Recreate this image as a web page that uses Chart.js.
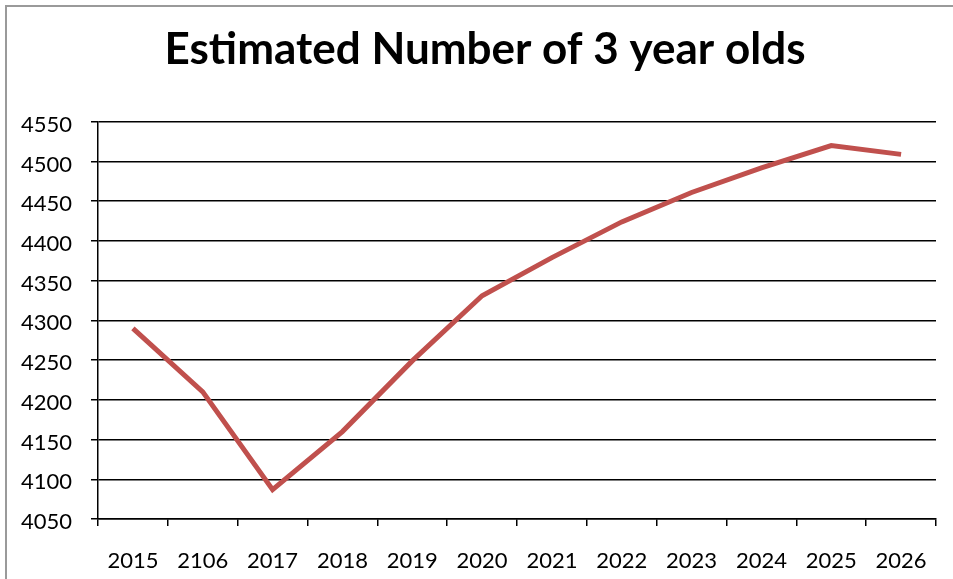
<!DOCTYPE html>
<html>
<head>
<meta charset="utf-8">
<script src="https://cdn.jsdelivr.net/npm/chart.js@4"></script>
<style>
  html, body { margin: 0; padding: 0; background: #fff; }
  #wrap { width: 953px; height: 579px; position: relative; }
</style>
</head>
<body>
<div id="wrap"><canvas id="chart" width="953" height="579"></canvas></div>
<script>
// data (the "2106" label is as printed in the original)
const years = ["2015", "2106", "2017", "2018", "2019", "2020", "2021", "2022", "2023", "2024", "2025", "2026"];
const threeYearOlds = [4290, 4210, 4087, 4160, 4249, 4331, 4379, 4424, 4461, 4492, 4520, 4509];
const yMin = 4050;
const yMax = 4550;
const yStep = 50;

const FONT = "Lato, 'Open Sans', sans-serif";

// grey frame round the chart, like the Excel chart border
const framePlugin = {
  id: "frame",
  afterLayout(chart) {
    // y labels hang left of the axis box, don't let them get clipped
    chart.scales.y.left = 0;
  },
  beforeDraw(chart) {
    const ctx = chart.ctx;
    ctx.save();
    ctx.fillStyle = "#fff";
    ctx.fillRect(0, 0, chart.width, chart.height);
    ctx.strokeStyle = "#9a9a9a";
    ctx.lineWidth = 2;
    ctx.strokeRect(6, 6, chart.width + 20, chart.height + 20);
    ctx.restore();
  }
};

new Chart(document.getElementById("chart"), {
  type: "line",
  data: {
    labels: years,
    datasets: [{
      label: "Estimated Number of 3 year olds",
      data: threeYearOlds,
      borderColor: "#C0504D",
      borderWidth: 5,
      pointRadius: 0,
      tension: 0,
      fill: false
    }]
  },
  options: {
    responsive: false,
    animation: false,
    layout: { padding: { left: 34, right: 17, top: 0, bottom: 0 } },
    plugins: {
      legend: { display: false },
      tooltip: { enabled: false },
      title: {
        display: true,
        text: "Estimated Number of 3 year olds",
        color: "#000",
        font: { family: FONT, size: 44, weight: "bold" },
        padding: { top: 23, bottom: 46 }
      }
    },
    scales: {
      x: {
        offset: true,
        grid: {
          offset: true,
          drawOnChartArea: false,
          drawTicks: true,
          tickLength: 7,
          color: "#000",
          lineWidth: 1.5
        },
        border: { color: "#000", width: 1.5 },
        ticks: {
          color: "#000",
          font: { family: FONT, size: 22 },
          padding: 22,
          maxRotation: 0,
          autoSkip: false
        },
        afterFit(scale) { scale.height = 60; }
      },
      y: {
        min: yMin,
        max: yMax,
        grid: {
          color: "#000",
          lineWidth: 1.5,
          tickLength: 7
        },
        border: { color: "#000", width: 1.5 },
        ticks: {
          stepSize: yStep,
          color: "#000",
          font: { family: FONT, size: 22 },
          padding: 19,
          labelOffset: 3,
          callback: v => String(v)
        },
        afterFit(scale) { scale.width = 64; }
      }
    }
  },
  plugins: [framePlugin]
});
</script>
</body>
</html>
